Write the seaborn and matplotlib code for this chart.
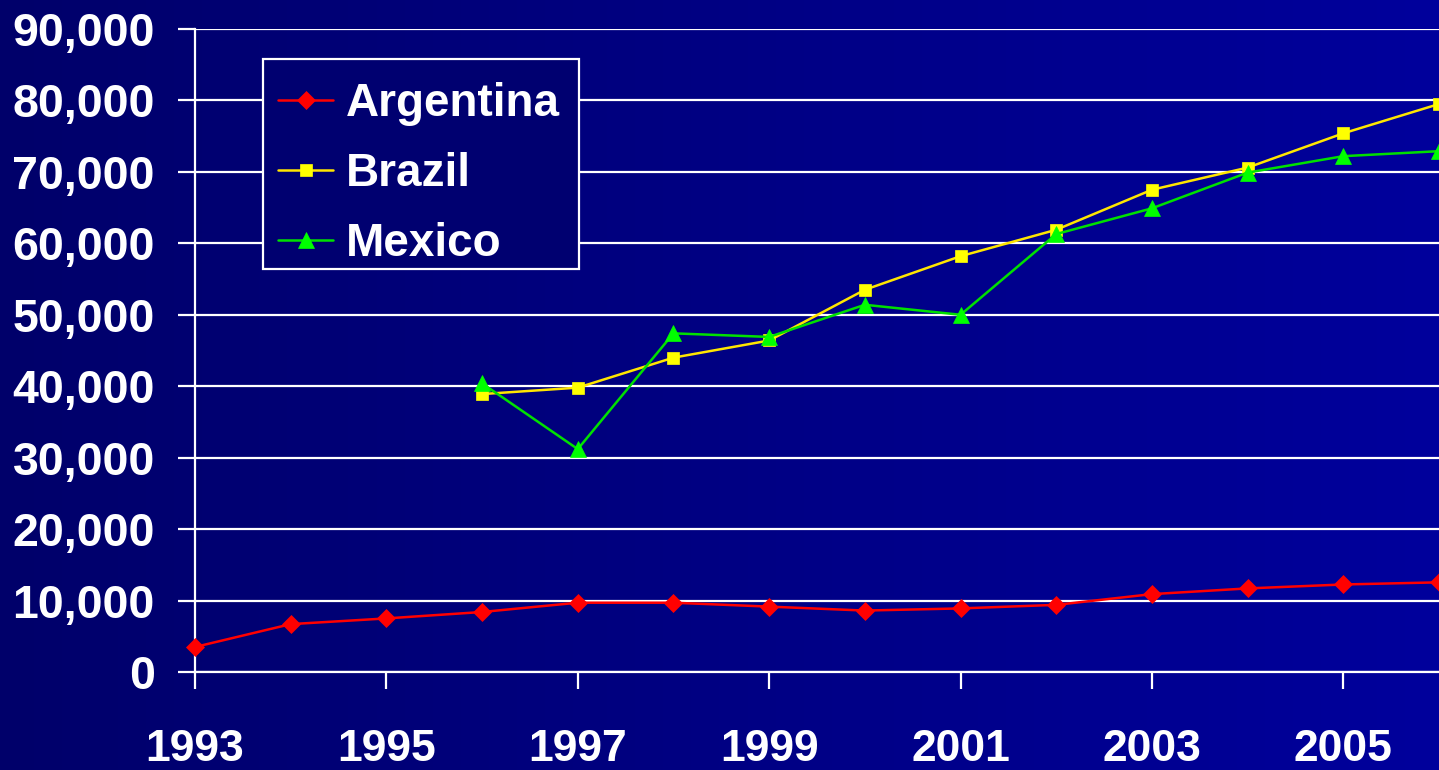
import numpy as np
import pandas as pd
import matplotlib
matplotlib.use("Agg")
import matplotlib.pyplot as plt
from matplotlib.colors import LinearSegmentedColormap
from matplotlib.patches import Rectangle
import seaborn as sns

# Yearly series
years_arg = [1993, 1994, 1995, 1996, 1997, 1998, 1999, 2000, 2001, 2002, 2003, 2004, 2005, 2006]
argentina = [3500, 6700, 7500, 8400, 9700, 9700, 9150, 8600, 8900, 9400, 10900, 11700, 12250, 12550]

years_bm = [1996, 1997, 1998, 1999, 2000, 2001, 2002, 2003, 2004, 2005, 2006]
brazil = [38900, 39800, 44000, 46400, 53500, 58200, 61900, 67500, 70600, 75400, 79500]
mexico = [40400, 31200, 47400, 46900, 51400, 50000, 61300, 64900, 69900, 72200, 72900]

y_ticks = [0, 10000, 20000, 30000, 40000, 50000, 60000, 70000, 80000, 90000]
x_ticks = [1993, 1995, 1997, 1999, 2001, 2003, 2005]

sns.set_theme(style="dark")
plt.rcParams["font.family"] = ["Liberation Sans", "DejaVu Sans"]

W, H = 1439, 770
fig = plt.figure(figsize=(W / 100, H / 100), dpi=100)

# Horizontal navy-to-blue gradient behind everything
bg = fig.add_axes([0, 0, 1, 1], zorder=-10)
bg_cmap = LinearSegmentedColormap.from_list("bg", ["#00006A", "#00009C"])
bg.imshow(np.linspace(0, 1, 256)[None, :], aspect="auto", cmap=bg_cmap,
          extent=[0, 1, 0, 1])
bg.set_axis_off()

left, right, top, bottom = 195, 1439, 29, 672
ax = fig.add_axes([left / W, (H - bottom) / H, (right - left) / W, (bottom - top) / H])
ax.set_facecolor("none")

df_arg = pd.DataFrame({"year": years_arg, "value": argentina})
df_bra = pd.DataFrame({"year": years_bm, "value": brazil})
df_mex = pd.DataFrame({"year": years_bm, "value": mexico})

series = [
    ("Argentina", df_arg, "#FF0000", "#FF0000", "D", 9),
    ("Brazil", df_bra, "#FFE600", "#FFFF00", "s", 9),
    ("Mexico", df_mex, "#00E000", "#00FF00", "^", 11),
]
handles = []
for name, d, lc, mc, mk, ms in series:
    sns.lineplot(data=d, x="year", y="value", ax=ax, color=lc, linewidth=1.8,
                 marker=mk, markersize=ms, markerfacecolor=mc,
                 markeredgecolor=mc, markeredgewidth=0.5, clip_on=False,
                 zorder=3, label=name)
    handles.append(ax.lines[-1])

ax.set_xlim(1993, 2006)
ax.set_ylim(0, 90000)
ax.set_xticks(x_ticks)
ax.set_yticks(y_ticks)
ax.set_yticklabels([f"{v:,}" for v in y_ticks])
ax.set_xlabel("")
ax.set_ylabel("")

ax.grid(False)
ax.yaxis.grid(True, color="white", linewidth=1.6)
ax.xaxis.grid(False)

for side in ["top", "right"]:
    ax.spines[side].set_visible(False)
for side in ["left", "bottom"]:
    ax.spines[side].set_visible(True)
    ax.spines[side].set_color("white")
    ax.spines[side].set_linewidth(1.6)

ax.tick_params(axis="y", colors="white", direction="out", length=12, width=1.6,
               pad=17, left=True)
ax.tick_params(axis="x", colors="white", direction="out", length=12, width=1.6,
               pad=29, bottom=True)
for lab in ax.get_yticklabels():
    lab.set_fontsize(33.5)
    lab.set_fontweight("bold")
    lab.set_color("white")
for lab in ax.get_xticklabels():
    lab.set_fontsize(32)
    lab.set_fontweight("bold")
    lab.set_color("white")

# Legend box drawn as its own panel so the entries can sit freely inside it
box = Rectangle((263 / W, 1 - 269 / H), (579 - 263) / W, (269 - 59) / H,
                transform=fig.transFigure, facecolor="#000070",
                edgecolor="white", linewidth=1.6, zorder=4, clip_on=False)
ax.add_artist(box)

leg = ax.legend(handles=handles, labels=[s[0] for s in series],
                loc="upper left", bbox_to_anchor=(278 / W, 1 - 82 / H),
                bbox_transform=fig.transFigure, borderaxespad=0,
                frameon=False, prop={"size": 33, "weight": "bold"},
                handlelength=1.2, handletextpad=0.29, labelspacing=0.57,
                borderpad=0)
leg.set_zorder(5)
for t in leg.get_texts():
    t.set_color("white")

fig.savefig("out.png", dpi=100, facecolor="#00006A")
